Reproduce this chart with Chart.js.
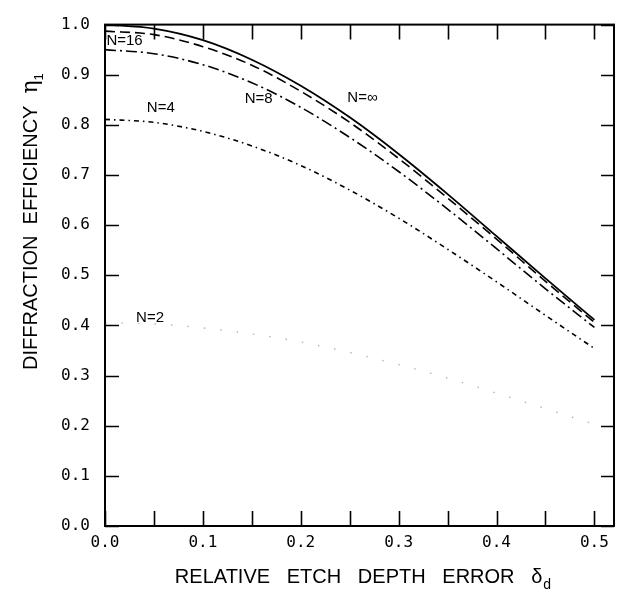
<!DOCTYPE html>
<html><head><meta charset="utf-8">
<script src="https://cdn.jsdelivr.net/npm/chart.js@4"></script>
<style>html,body{margin:0;padding:0;background:#fff}#wrap{width:617px;height:592px;position:relative}</style>
</head><body><div id="wrap"><canvas id="c"></canvas></div>
<script>
// ---- data ----
const delta   = [0, 0.05, 0.10, 0.15, 0.20, 0.25, 0.30, 0.35, 0.40, 0.45, 0.50];
const effInf  = [1.000, 0.992, 0.969, 0.930, 0.878, 0.815, 0.742, 0.662, 0.578, 0.494, 0.411];
const eff16   = [0.987, 0.980, 0.956, 0.919, 0.867, 0.805, 0.733, 0.654, 0.572, 0.488, 0.406];
const eff8    = [0.950, 0.942, 0.920, 0.884, 0.835, 0.775, 0.707, 0.632, 0.553, 0.473, 0.396];
const eff4    = [0.811, 0.805, 0.787, 0.758, 0.719, 0.670, 0.614, 0.552, 0.487, 0.420, 0.354];
const eff2    = [0.405, 0.403, 0.395, 0.383, 0.367, 0.346, 0.322, 0.295, 0.265, 0.234, 0.203];
const seriesNames = ['N=\u221E', 'N=16', 'N=8', 'N=4', 'N=2'];
const xTickValues = [0, 0.05, 0.1, 0.15, 0.2, 0.25, 0.3, 0.35, 0.4, 0.45, 0.5];
const xTickLabels = ['0.0', '', '0.1', '', '0.2', '', '0.3', '', '0.4', '', '0.5'];
const yTickValues = [0, 0.1, 0.2, 0.3, 0.4, 0.5, 0.6, 0.7, 0.8, 0.9, 1.0];
const yTickLabels = ['0.0', '0.1', '0.2', '0.3', '0.4', '0.5', '0.6', '0.7', '0.8', '0.9', '1.0'];
const xTitle = 'RELATIVE   ETCH   DEPTH   ERROR   \u03B4';
const yTitle = 'DIFFRACTION  EFFICIENCY';

// ---- styling / annotation placement ----
const curveStyles = [
  {color:'#000', width:1.8, dash:[]},
  {color:'#000', width:1.6, dash:[10,5]},
  {color:'#000', width:1.6, dash:[11,4,2,4]},
  {color:'#000', width:1.6, dash:[5,4,1.5,4]},
  {color:'#b4b4b4', width:1.4, dash:[1.5,15]}
];
const labelSpots = [
  {x:0.263, y:0.853}, {x:0.020, y:0.967}, {x:0.157, y:0.851}, {x:0.057, y:0.834}, {x:0.046, y:0.415}
];
const seriesData = [effInf, eff16, eff8, eff4, eff2];

const frame = {
  id:'frame',
  afterDraw(chart){
    const {ctx, chartArea:a, scales:{x, y}} = chart;
    ctx.save();
    ctx.strokeStyle = '#000';
    ctx.lineWidth = 2;
    ctx.strokeRect(a.left, a.top, a.right - a.left, a.bottom - a.top);
    ctx.lineWidth = 1.6;
    ctx.beginPath();
    x.ticks.forEach(t => {
      const px = Math.round(x.getPixelForValue(t.value)) + 0.5;
      ctx.moveTo(px, a.bottom); ctx.lineTo(px, a.bottom - 15);
      ctx.moveTo(px, a.top); ctx.lineTo(px, a.top + 15);
    });
    y.ticks.forEach(t => {
      const py = Math.round(y.getPixelForValue(t.value)) + 0.5;
      ctx.moveTo(a.left, py); ctx.lineTo(a.left + 14, py);
      ctx.moveTo(a.right, py); ctx.lineTo(a.right - 13, py);
    });
    ctx.stroke();

    // curve labels
    ctx.fillStyle = '#000';
    ctx.font = '15px "Liberation Sans", Arial, sans-serif';
    ctx.textAlign = 'center';
    ctx.textBaseline = 'middle';
    seriesNames.forEach((n, i) => {
      ctx.fillText(n, x.getPixelForValue(labelSpots[i].x), y.getPixelForValue(labelSpots[i].y));
    });

    // x title with subscript
    ctx.textAlign = 'left';
    ctx.textBaseline = 'alphabetic';
    const mainFont = '20px "Liberation Sans", Arial, sans-serif';
    const subFont = '14px "Liberation Sans", Arial, sans-serif';
    ctx.font = mainFont;
    const w1 = ctx.measureText(xTitle).width;
    ctx.font = subFont;
    const w2 = ctx.measureText('d').width;
    const cx = (a.left + a.right) / 2 + 3;
    const x0 = cx - (w1 + w2) / 2;
    ctx.font = mainFont;
    ctx.fillText(xTitle, x0, 583);
    ctx.font = subFont;
    ctx.fillText('d', x0 + w1 + 1, 589);

    // y title rotated
    ctx.save();
    ctx.translate(37, 370);
    ctx.rotate(-Math.PI / 2);
    ctx.font = mainFont;
    ctx.fillText(yTitle, 0, 0);
    const wy = ctx.measureText(yTitle).width;
    ctx.font = '22px "DejaVu Serif", serif';
    ctx.fillText('\u03B7', wy + 12, 0);
    const we = ctx.measureText('\u03B7').width;
    ctx.font = '13px "Liberation Sans", Arial, sans-serif';
    ctx.fillText('1', wy + 12 + we, 6);
    ctx.restore();

    ctx.restore();
  }
};

const tickFont = {family:'"DejaVu Sans Mono", monospace', size:16};

new Chart(document.getElementById('c'), {
  type:'line',
  data:{
    datasets: seriesData.map((arr, i) => ({
      label: seriesNames[i],
      data: delta.map((d, j) => ({x:d, y:arr[j]})),
      borderColor: curveStyles[i].color,
      borderWidth: curveStyles[i].width,
      borderDash: curveStyles[i].dash,
      pointRadius: 0,
      fill: false,
      cubicInterpolationMode: 'monotone'
    }))
  },
  options:{
    responsive:true, maintainAspectRatio:false, animation:false,
    layout:{padding:{top:15, right:3, left:0, bottom:0}},
    plugins:{legend:{display:false}, tooltip:{enabled:false}},
    scales:{
      x:{
        type:'linear', min:0, max:0.52,
        grid:{display:false, drawTicks:false}, border:{display:false},
        afterBuildTicks: s => { s.ticks = xTickValues.map(v => ({value:v})); },
        afterFit: s => { s.height = 66; },
        ticks:{autoSkip:false, maxRotation:0, minRotation:0, padding:7, color:'#000', font:tickFont,
               callback:(v, i) => xTickLabels[i]}
      },
      y:{
        type:'linear', min:0, max:1,
        grid:{display:false, drawTicks:false}, border:{display:false},
        afterBuildTicks: s => { s.ticks = yTickValues.map(v => ({value:v})); },
        afterFit: s => { s.width = 105; },
        ticks:{autoSkip:false, padding:15, color:'#000', font:tickFont,
               callback:(v, i) => yTickLabels[i]}
      }
    }
  },
  plugins:[frame]
});
</script>
</body></html>
